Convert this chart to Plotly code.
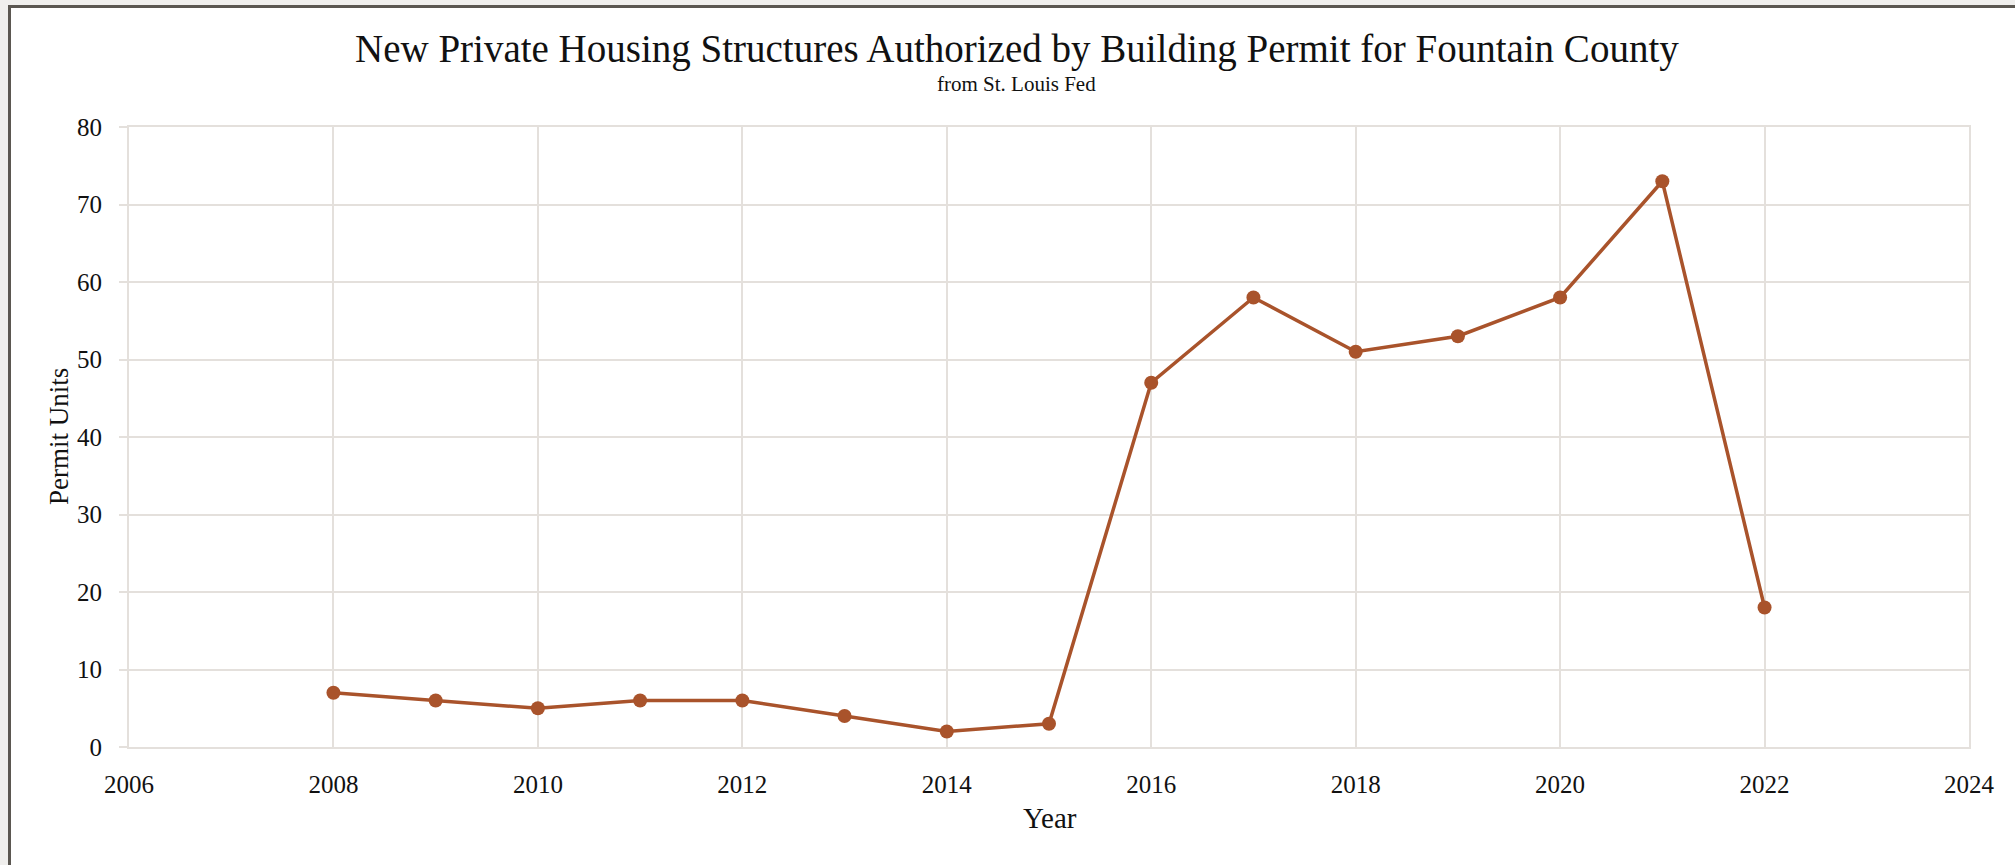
import plotly.graph_objects as go

years = [2008, 2009, 2010, 2011, 2012, 2013, 2014, 2015, 2016, 2017, 2018, 2019, 2020, 2021, 2022]
permits = [7, 6, 5, 6, 6, 4, 2, 3, 47, 58, 51, 53, 58, 73, 18]
x_ticks = [2006, 2008, 2010, 2012, 2014, 2016, 2018, 2020, 2022, 2024]
y_ticks = [0, 10, 20, 30, 40, 50, 60, 70, 80]

title_text = "New Private Housing Structures Authorized by Building Permit for Fountain County"
subtitle_text = "from St. Louis Fed"

W, H = 2015, 865
L, R, T, B = 129, 46, 127, 118
pw, ph = W - L - R, H - T - B

def px_x(p):
    return (p - L) / pw

def px_y(p):
    return (H - B - p) / ph

line_color = "#a9532b"
grid_color = "#e4e0dc"
serif = "Liberation Serif, Times New Roman, serif"

fig = go.Figure()
fig.add_trace(go.Scatter(
    x=years, y=permits, mode="lines+markers",
    line=dict(color=line_color, width=3.5),
    marker=dict(color=line_color, size=14),
    showlegend=False,
))

fig.update_layout(
    width=W, height=H,
    margin=dict(l=L, r=R, t=T, b=B, pad=0),
    paper_bgcolor="#f0efed",
    plot_bgcolor="white",
    font=dict(family=serif, color="#111111"),
    xaxis=dict(
        range=[2006, 2024], tickvals=x_ticks, ticktext=[str(v) for v in x_ticks],
        showgrid=True, gridcolor=grid_color, gridwidth=2,
        showline=True, linecolor=grid_color, linewidth=2, mirror=True,
        ticks="", ticklabelstandoff=14, zeroline=False,
        tickfont=dict(size=25, family=serif, color="#111111"),
    ),
    yaxis=dict(
        range=[0, 80], tickvals=y_ticks, ticktext=[str(v) for v in y_ticks],
        showgrid=True, gridcolor=grid_color, gridwidth=2,
        showline=True, linecolor=grid_color, linewidth=2, mirror=True,
        ticks="outside", ticklen=8, tickwidth=2, tickcolor=grid_color,
        ticklabelstandoff=12, zeroline=False,
        tickfont=dict(size=25, family=serif, color="#111111"),
    ),
    shapes=[dict(
        type="rect", xref="paper", yref="paper", layer="below",
        x0=px_x(9.5), x1=px_x(2200), y0=px_y(1000), y1=px_y(6.5),
        fillcolor="white", line=dict(color="#5b5751", width=3),
    )],
    annotations=[
        dict(text=title_text, xref="paper", yref="paper", x=px_x(1017), y=px_y(49),
             xanchor="center", yanchor="middle", showarrow=False,
             font=dict(size=39, family=serif, color="#111111")),
        dict(text=subtitle_text, xref="paper", yref="paper", x=px_x(1016), y=px_y(84),
             xanchor="center", yanchor="middle", showarrow=False,
             font=dict(size=21, family=serif, color="#111111")),
        dict(text="Year", xref="paper", yref="paper", x=px_x(1050), y=px_y(818),
             xanchor="center", yanchor="middle", showarrow=False,
             font=dict(size=29, family=serif, color="#111111")),
        dict(text="Permit Units", xref="paper", yref="paper", x=px_x(59), y=px_y(437),
             xanchor="center", yanchor="middle", showarrow=False, textangle=-90,
             font=dict(size=27, family=serif, color="#111111")),
    ],
)

fig.write_html("out.html", config={"displayModeBar": False},
               post_script="document.body.style.margin='0';")
